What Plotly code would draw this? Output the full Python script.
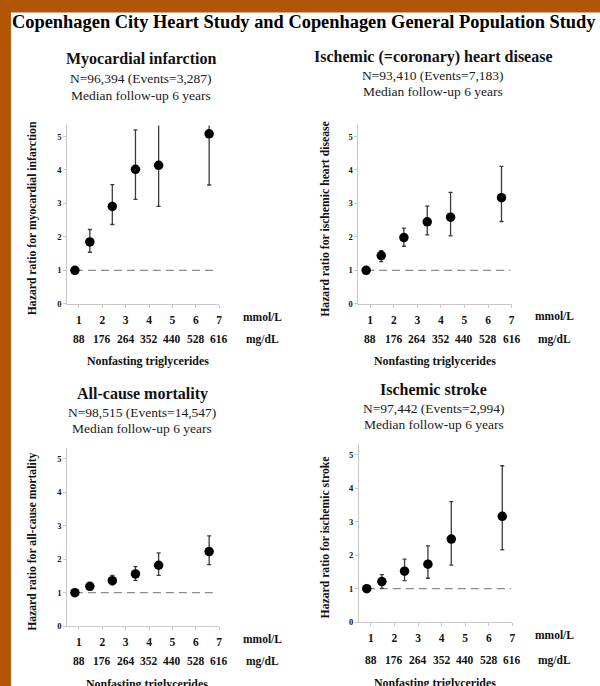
import plotly.graph_objects as go

W, H = 600, 686

# ---------------- data ----------------
x_mmol = [0.83, 1.47, 2.43, 3.42, 4.41, 6.57]
mmol_ticks = [1, 2, 3, 4, 5, 6, 7]
mgdl_labels = ["88", "176", "264", "352", "440", "528", "616"]

mi_hr = [1.0, 1.85, 2.91, 4.02, 4.14, 5.08]
mi_lo = [None, 1.54, 2.37, 3.12, 2.91, 3.55]
mi_hi = [None, 2.22, 3.56, 5.20, 5.60, 5.60]

ihd_hr = [1.0, 1.44, 1.98, 2.45, 2.59, 3.17]
ihd_lo = [None, 1.26, 1.72, 2.06, 2.03, 2.46]
ihd_hi = [None, 1.59, 2.26, 2.92, 3.33, 4.11]

acm_hr = [1.0, 1.19, 1.36, 1.56, 1.82, 2.23]
acm_lo = [None, 1.12, 1.24, 1.37, 1.52, 1.84]
acm_hi = [None, 1.26, 1.52, 1.78, 2.19, 2.70]

is_hr = [1.0, 1.21, 1.52, 1.73, 2.48, 3.16]
is_lo = [None, 1.01, 1.24, 1.31, 1.70, 2.16]
is_hi = [None, 1.42, 1.88, 2.28, 3.60, 4.67]

ref_x = [0.83, 6.95]
ref_y = [1, 1]

main_title = "Copenhagen City Heart Study and Copenhagen General Population Study"
panel_titles = ["Myocardial infarction", "Ischemic (=coronary) heart disease",
                "All-cause mortality", "Ischemic stroke"]
panel_n = ["N=96,394 (Events=3,287)", "N=93,410 (Events=7,183)",
           "N=98,515 (Events=14,547)", "N=97,442 (Events=2,994)"]
followup = "Median follow-up 6 years"
y_titles = ["Hazard ratio for myocardial infarction", "Hazard ratio for ischemic heart disease",
            "Hazard ratio for all-cause mortality", "Hazard ratio for ischemic stroke"]
x_title = "Nonfasting triglycerides"

series = [(mi_hr, mi_lo, mi_hi), (ihd_hr, ihd_lo, ihd_hi),
          (acm_hr, acm_lo, acm_hi), (is_hr, is_lo, is_hi)]

# ---------------- layout geometry (pixels) ----------------
panels = [
    dict(xpx=(67.5, 220.3), ypx=(306.0, 126.4), hx=142, hy=(59.8, 79.2, 95.8),
         ytx=33, yty=220, ux=264, uy=(319.0, 341.5), xtx=149, xty=364),
    dict(xpx=(360.2, 514.2), ypx=(306.0, 126.4), hx=435.5, hy=(57.5, 76.5, 92),
         ytx=327, yty=220, ux=557, uy=(318.8, 341.5), xtx=437, xty=364),
    dict(xpx=(67.5, 220.3), ypx=(630.7, 451.2), hx=143, hy=(396.5, 415.5, 431.5),
         ytx=32, yty=546, ux=264, uy=(644.0, 666), xtx=148, xty=689),
    dict(xpx=(360.8, 515.0), ypx=(626.7, 446.9), hx=436, hy=(392.5, 411.5, 427.2),
         ytx=327, yty=541, ux=557, uy=(640.0, 665), xtx=437, xty=688),
]

SERIF = "Liberation Serif"
TXT = "#111111"
AXC = "#c8c8c8"

fig = go.Figure()
annotations = []

def px(xp):
    return xp / W

def py(yp):
    return 1 - yp / H

for i, (p, (hr, lo, hi)) in enumerate(zip(panels, series)):
    k = "" if i == 0 else str(i + 1)
    xa, ya = "x" + k, "y" + k
    plus = [None if h is None else h - v for h, v in zip(hi, hr)]
    minus = [None if l is None else v - l for l, v in zip(lo, hr)]
    fig.add_trace(go.Scatter(x=ref_x, y=ref_y, mode="lines", xaxis=xa, yaxis=ya,
                             line=dict(color="#8c8c8c", width=1.3, dash="8px,5px"),
                             showlegend=False, hoverinfo="skip"))
    fig.add_trace(go.Scatter(
        x=x_mmol, y=hr, mode="markers", xaxis=xa, yaxis=ya, showlegend=False,
        marker=dict(color="black", size=9.5),
        error_y=dict(type="data", symmetric=False, array=plus, arrayminus=minus,
                     color="#3a3a3a", thickness=1.3, width=2)))
    fig.layout["xaxis" + k] = dict(
        domain=[px(p["xpx"][0]), px(p["xpx"][1])], range=[0.5, 7], anchor=ya,
        tickvals=mmol_ticks, ticktext=[str(t) for t in mmol_ticks],
        showline=True, linecolor=AXC, linewidth=1, showgrid=False, zeroline=False,
        ticks="outside", ticklen=3, tickcolor=AXC, ticklabelstandoff=2,
        tickfont=dict(family=SERIF, size=11.5, color=TXT, weight="bold"))
    fig.layout["yaxis" + k] = dict(
        domain=[py(p["ypx"][0]), py(p["ypx"][1])], range=[0, 5.33], anchor=xa,
        tickvals=[0, 1, 2, 3, 4, 5],
        showline=True, linecolor=AXC, linewidth=1, showgrid=False, zeroline=False,
        ticks="outside", ticklen=3, tickcolor=AXC,
        tickfont=dict(family=SERIF, size=8.5, color=TXT, weight="bold"))
    annotations.append(dict(text="<b>%s</b>" % panel_titles[i], x=px(p["hx"]), y=py(p["hy"][0]),
                            xref="paper", yref="paper", showarrow=False, xanchor="center", yanchor="middle",
                            font=dict(family=SERIF, size=16, color=TXT)))
    annotations.append(dict(text=panel_n[i], x=px(p["hx"]), y=py(p["hy"][1]),
                            xref="paper", yref="paper", showarrow=False, xanchor="center", yanchor="middle",
                            font=dict(family=SERIF, size=13.5, color="#1a1a1a")))
    annotations.append(dict(text=followup, x=px(p["hx"]), y=py(p["hy"][2]),
                            xref="paper", yref="paper", showarrow=False, xanchor="center", yanchor="middle",
                            font=dict(family=SERIF, size=13.5, color="#1a1a1a")))
    annotations.append(dict(text="<b>%s</b>" % y_titles[i], x=px(p["ytx"]), y=py(p["yty"]),
                            xref="paper", yref="paper", showarrow=False, textangle=-90,
                            xanchor="center", yanchor="middle",
                            font=dict(family=SERIF, size=11.7, color=TXT)))
    for t, lab in zip(mmol_ticks, mgdl_labels):
        annotations.append(dict(text="<b>%s</b>" % lab, x=t, y=py(p["uy"][1]),
                                xref=xa, yref="paper", showarrow=False,
                                xanchor="center", yanchor="middle",
                                font=dict(family=SERIF, size=11.5, color=TXT)))
    annotations.append(dict(text="<b>mmol/L</b>", x=px(p["ux"]), y=py(p["uy"][0]),
                            xref="paper", yref="paper", showarrow=False, xanchor="center", yanchor="middle",
                            font=dict(family=SERIF, size=11.5, color=TXT)))
    annotations.append(dict(text="<b>mg/dL</b>", x=px(p["ux"]), y=py(p["uy"][1]),
                            xref="paper", yref="paper", showarrow=False, xanchor="center", yanchor="middle",
                            font=dict(family=SERIF, size=11.5, color=TXT)))
    annotations.append(dict(text="<b>%s</b>" % x_title, x=px(p["xtx"]), y=py(p["xty"]),
                            xref="paper", yref="paper", showarrow=False, xanchor="center", yanchor="middle",
                            font=dict(family=SERIF, size=11.9, color=TXT)))

annotations.append(dict(text="<b>%s</b>" % main_title, x=px(10), y=py(22.5),
                        xref="paper", yref="paper", showarrow=False, xanchor="left", yanchor="middle",
                        font=dict(family=SERIF, size=18.4, color="black")))

shapes = [
    dict(type="rect", xref="paper", yref="paper", x0=px(11), x1=1.02, y0=-0.02, y1=py(12.5),
         fillcolor="white", line=dict(width=0), layer="below"),
]

fig.update_layout(
    width=W, height=H, margin=dict(l=0, r=0, t=0, b=0),
    paper_bgcolor="#b35506", plot_bgcolor="rgba(0,0,0,0)",
    annotations=annotations, shapes=shapes,
)

fig.write_html("out.html", config={"displayModeBar": False},
               post_script="document.body.style.margin='0';document.body.style.overflow='hidden';")
